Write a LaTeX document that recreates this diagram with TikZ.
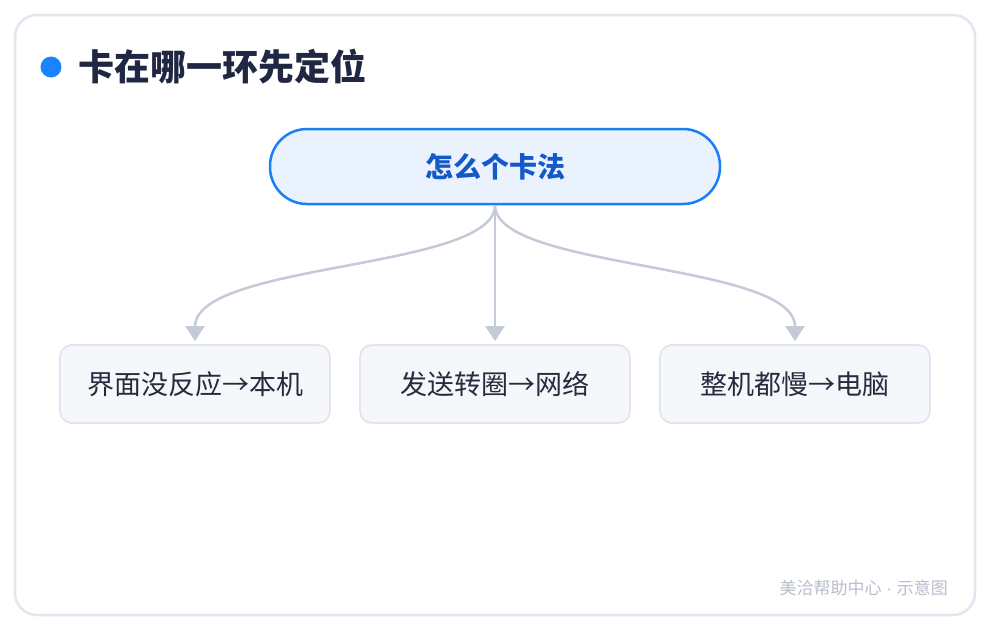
\documentclass[tikz,border=0pt]{standalone}
\usepackage{fontspec}
\setmainfont{Noto Sans CJK SC}
\newfontfamily\latinfont{Liberation Sans}
\usetikzlibrary{arrows.meta}
\definecolor{framec}{HTML}{E3E6F0}
\definecolor{dotc}{HTML}{1A84FF}
\definecolor{titlec}{HTML}{1F2742}
\definecolor{rootfill}{HTML}{EAF2FE}
\definecolor{rootdraw}{HTML}{1A7FF5}
\definecolor{roottext}{HTML}{1459C8}
\definecolor{childfill}{HTML}{F5F7FB}
\definecolor{childdraw}{HTML}{E1E5EE}
\definecolor{childtext}{HTML}{262B3D}
\definecolor{linkc}{HTML}{C5CAD9}
\definecolor{footc}{HTML}{B9BECD}
\tikzset{
  rootbox/.style={draw=rootdraw, fill=rootfill, line width=2.5pt, rounded corners=37pt,
    minimum width=450pt, minimum height=75pt, inner sep=0pt,
    text=roottext, font=\fontsize{28pt}{32pt}\selectfont\bfseries},
  childbox/.style={draw=childdraw, fill=childfill, line width=1.8pt, rounded corners=12pt,
    minimum width=270pt, minimum height=78pt, inner sep=0pt,
    text=childtext, font=\fontsize{27pt}{32pt}\selectfont},
  link/.style={draw=linkc, line width=2.5pt, -{Triangle[width=19pt,length=15pt]}}
}
\begin{document}
\begin{tikzpicture}[x=1pt,y=-1pt]
\useasboundingbox (0,0) rectangle (990,630);
\fill[white] (0,0) rectangle (990,630);
\draw[framec, line width=2.5pt, fill=white, rounded corners=22pt] (15,15) rectangle (975,615);
\fill[dotc] (51,67) circle (10.5pt);
\node[anchor=west, text=titlec, font=\fontsize{36pt}{40pt}\selectfont\bfseries, inner sep=0pt] (title) at (78,67) {卡在哪一环先定位};
\node[rootbox] (root) at (495,166.5) {怎么个卡法};
\node[childbox] (c1) at (195,384) {界面没反应→本机};
\node[childbox] (c2) at (495,384) {发送转圈→网络};
\node[childbox] (c3) at (795,384) {整机都慢→电脑};
\draw[link] (root.south) .. controls (495,270) and (195,262) .. ([yshift=3pt]c1.north);
\draw[link] (root.south) -- ([yshift=3pt]c2.north);
\draw[link] (root.south) .. controls (495,270) and (795,262) .. ([yshift=3pt]c3.north);
\node[anchor=east, text=footc, font=\fontsize{17pt}{20pt}\selectfont, inner sep=0pt] (foot) at (948,588) {美洽帮助中心{\latinfont\ ·\ }示意图};
\end{tikzpicture}
\end{document}
